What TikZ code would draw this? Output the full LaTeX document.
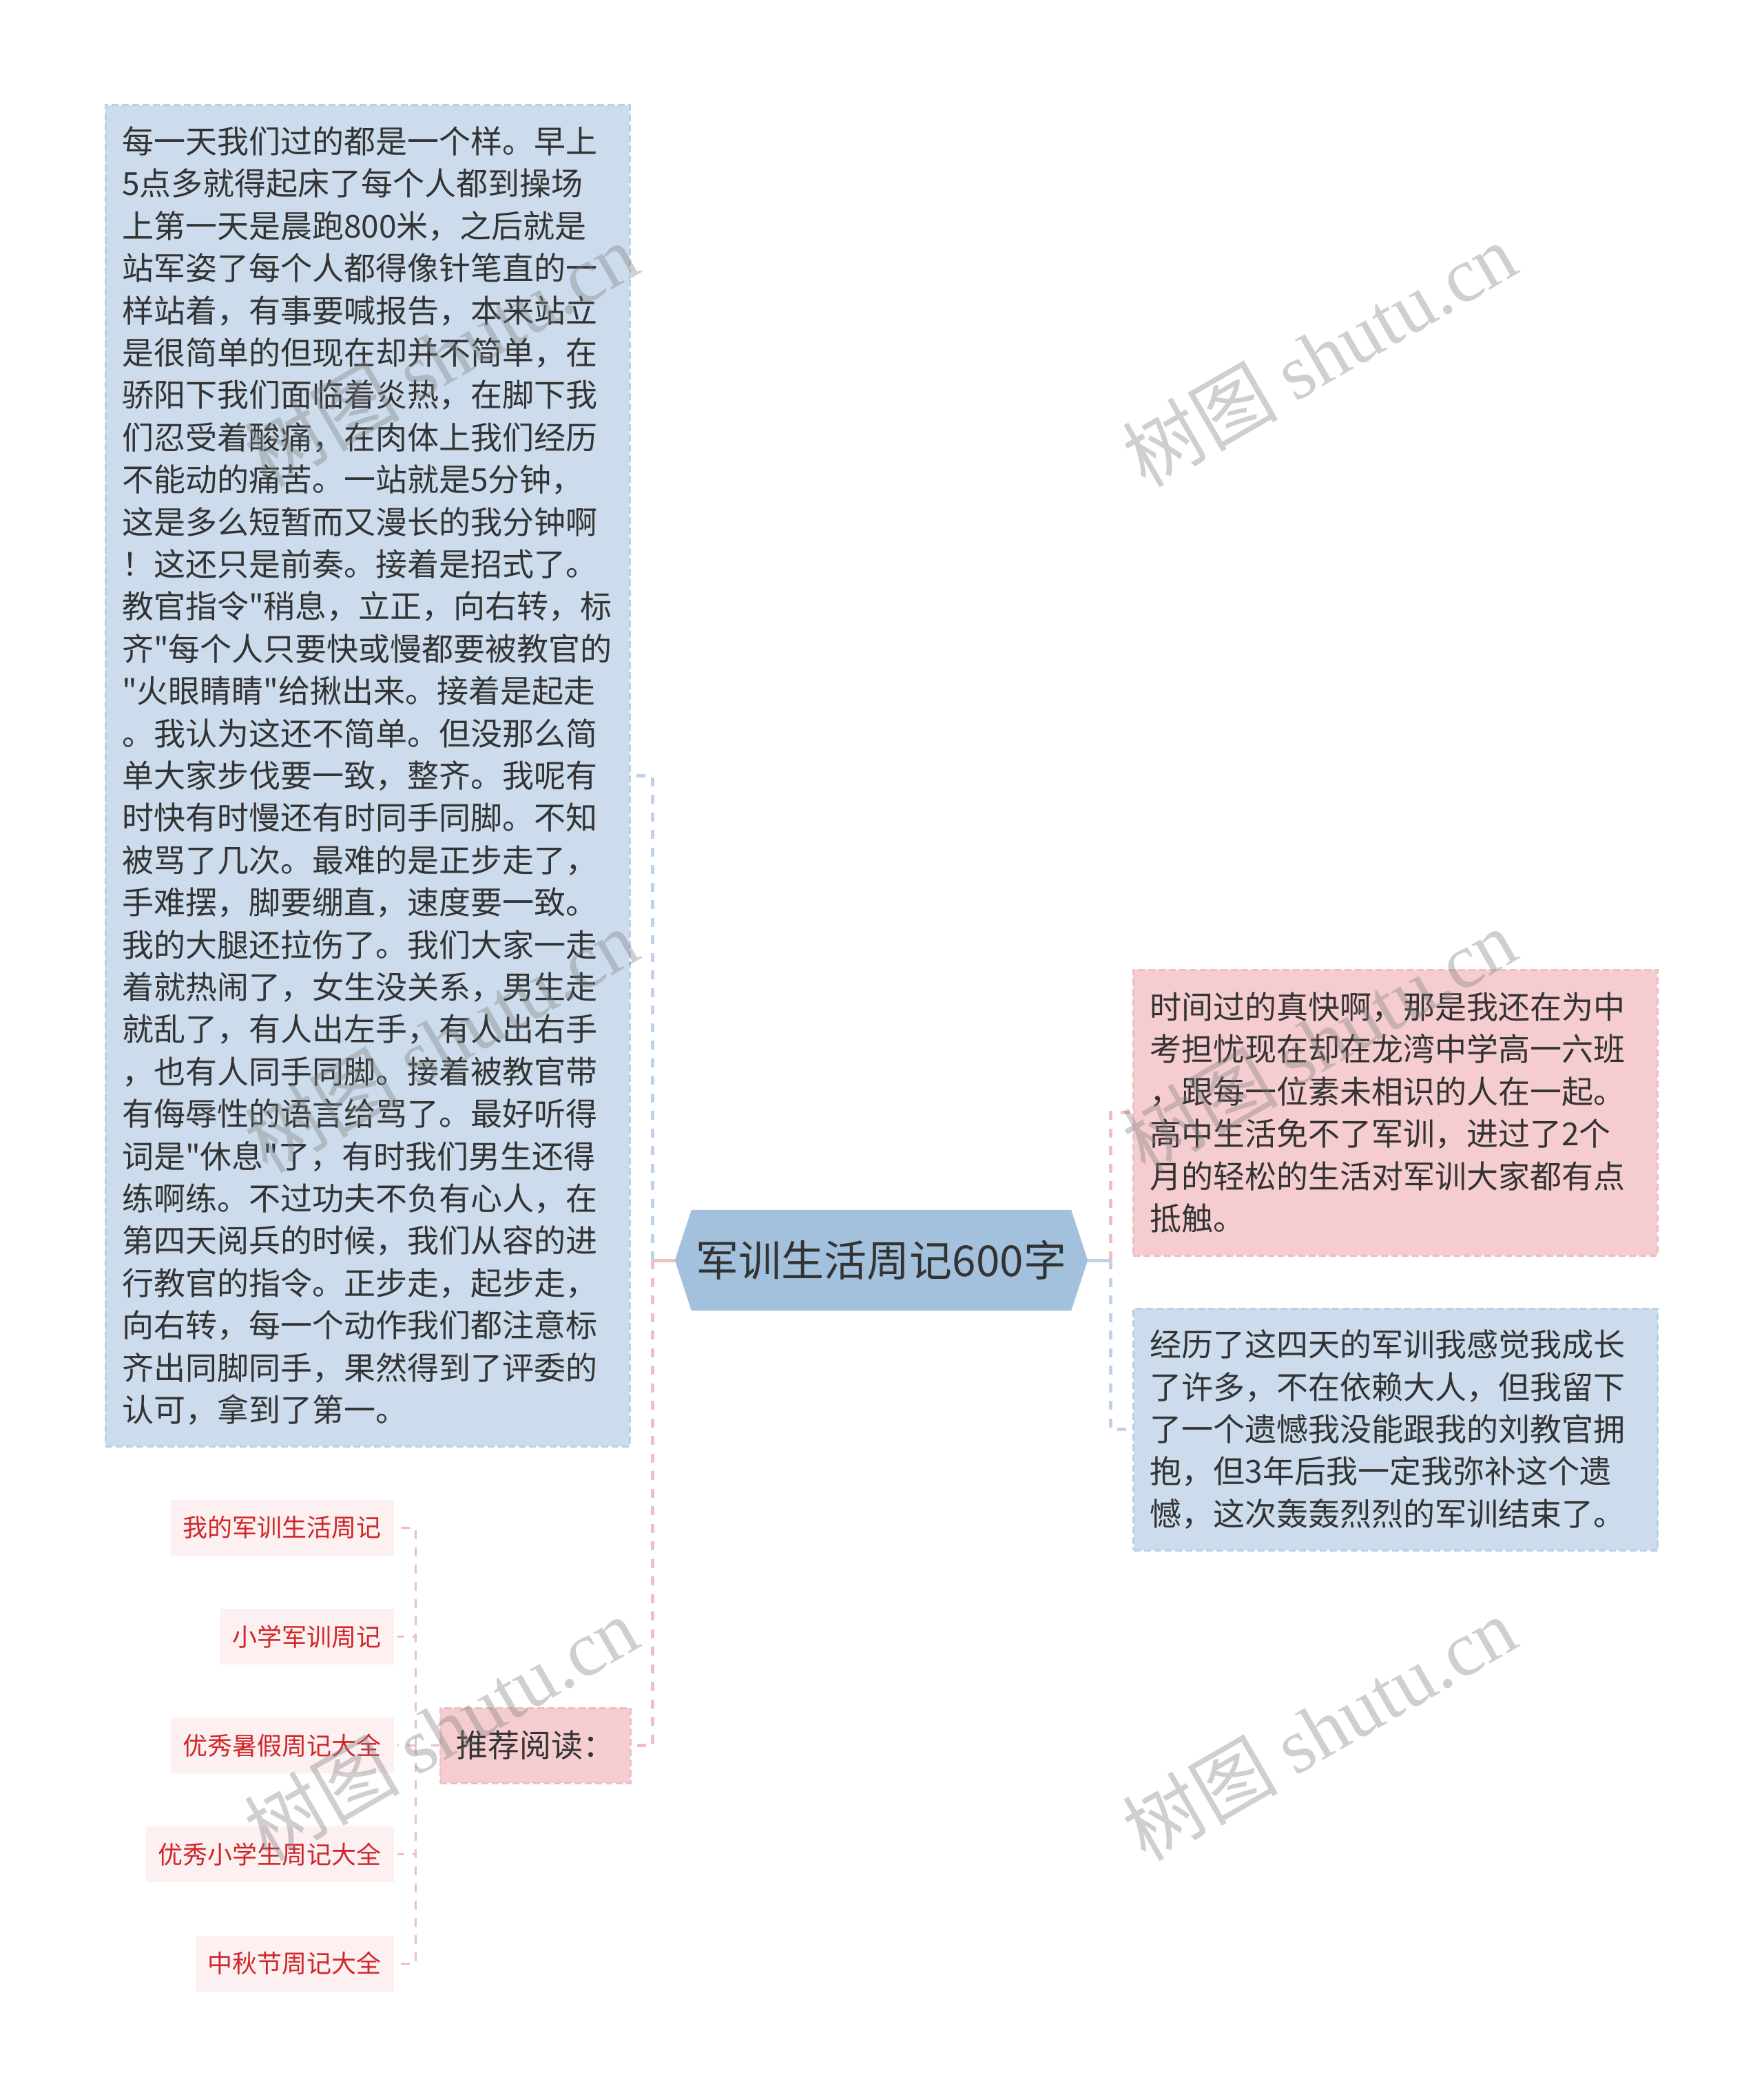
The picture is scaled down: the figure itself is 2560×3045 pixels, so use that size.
\documentclass[tikz,border=0pt]{standalone}
\usepackage{fontspec}
\setmainfont{Noto Sans CJK SC}[Ligatures=TeXOff]
\newfontfamily\wmlatin{Liberation Serif}
\usetikzlibrary{positioning,backgrounds}

\definecolor{txtgray}{HTML}{333333}
\definecolor{bluefill}{RGB}{204,220,236}
\definecolor{blueedge}{RGB}{188,207,229}
\definecolor{rootfill}{RGB}{163,193,221}
\definecolor{pinkfill}{RGB}{245,205,208}
\definecolor{pinkedge}{RGB}{239,190,195}
\definecolor{leaffill}{RGB}{252,240,241}
\definecolor{leafred}{RGB}{208,38,42}
\definecolor{bluelink}{RGB}{190,210,232}
\definecolor{pinklink}{RGB}{240,190,195}

\tikzset{
  body/.style={line width=3pt, dash pattern=on 10pt off 5pt, text=txtgray,
    align=left, text width=713pt, inner xsep=24pt, inner ysep=0pt,
    font=\fontsize{46}{61.4}\selectfont},
  bluebody/.style={body, fill=bluefill, draw=blueedge},
  pinkbody/.style={body, fill=pinkfill, draw=pinkedge},
  rootbox/.style={minimum width=599pt, minimum height=146pt, inner sep=0pt,
    text=txtgray, font=\fontsize{62}{70}\selectfont},
  recbox/.style={fill=pinkfill, draw=pinkedge, line width=3pt,
    dash pattern=on 10pt off 5pt, minimum width=276pt, minimum height=109pt,
    inner sep=0pt, text=txtgray, font=\fontsize{46}{50}\selectfont},
  leafbox/.style={fill=leaffill, minimum height=81pt, inner xsep=18pt,
    inner ysep=0pt, text=leafred, font=\fontsize{36}{40}\selectfont},
  blink/.style={draw=bluelink, line width=5pt, dash pattern=on 13pt off 12.5pt},
  plink/.style={draw=pinklink, line width=5pt, dash pattern=on 13pt off 12.5pt},
  leaflink/.style={draw=pinklink, line width=3pt, dash pattern=on 13pt off 12pt},
  wmark/.style={text=black!50, opacity=0.38, rotate=30,
    font=\fontsize{113}{118}\selectfont}
}

\begin{document}
\begin{tikzpicture}[x=1pt,y=-1pt]
\useasboundingbox (0,0) rectangle (2560,3045);

% central topic
\node[rootbox] (root) at (1279.5,1830) {军训生活周记600字};
\begin{scope}[on background layer]
  \fill[rootfill] ([xshift=24pt]root.north west) -- ([xshift=-24pt]root.north east)
    -- (root.east) -- ([xshift=-24pt]root.south east)
    -- ([xshift=24pt]root.south west) -- (root.west) -- cycle;
\end{scope}

% left: long text
\node[bluebody, minimum height=1947pt] (story) at (533.5,1126.5) {%
每一天我们过的都是一个样。早上\\
5点多就得起床了每个人都到操场\\
上第一天是晨跑800米，之后就是\\
站军姿了每个人都得像针笔直的一\\
样站着，有事要喊报告，本来站立\\
是很简单的但现在却并不简单，在\\
骄阳下我们面临着炎热，在脚下我\\
们忍受着酸痛，在肉体上我们经历\\
不能动的痛苦。一站就是5分钟，\\
这是多么短暂而又漫长的我分钟啊\\
！这还只是前奏。接着是招式了。\\
教官指令"稍息，立正，向右转，标\\
齐"每个人只要快或慢都要被教官的\\
"火眼睛睛"给揪出来。接着是起走\\
。我认为这还不简单。但没那么简\\
单大家步伐要一致，整齐。我呢有\\
时快有时慢还有时同手同脚。不知\\
被骂了几次。最难的是正步走了，\\
手难摆，脚要绷直，速度要一致。\\
我的大腿还拉伤了。我们大家一走\\
着就热闹了，女生没关系，男生走\\
就乱了，有人出左手，有人出右手\\
，也有人同手同脚。接着被教官带\\
有侮辱性的语言给骂了。最好听得\\
词是"休息"了，有时我们男生还得\\
练啊练。不过功夫不负有心人，在\\
第四天阅兵的时候，我们从容的进\\
行教官的指令。正步走，起步走，\\
向右转，每一个动作我们都注意标\\
齐出同脚同手，果然得到了评委的\\
认可，拿到了第一。};

% left: recommended reading
\node[recbox] (rec) at (777,2534.5) {推荐阅读：};
\foreach \t [count=\i] in {我的军训生活周记,小学军训周记,优秀暑假周记大全,优秀小学生周记大全,中秋节周记大全}
  \node[leafbox, anchor=east] (lf\i) at (572,{2218+158.25*(\i-1)}) {\t};

% right: two text boxes
\node[pinkbody, minimum height=415pt] (start) at (2025.5,1615.5) {%
时间过的真快啊，那是我还在为中\\
考担忧现在却在龙湾中学高一六班\\
，跟每一位素未相识的人在一起。\\
高中生活免不了军训，进过了2个\\
月的轻松的生活对军训大家都有点\\
抵触。};
\node[bluebody, minimum height=351pt] (ending) at (2026,2075.5) {%
经历了这四天的军训我感觉我成长\\
了许多，不在依赖大人，但我留下\\
了一个遗憾我没能跟我的刘教官拥\\
抱，但3年后我一定我弥补这个遗\\
憾，这次轰轰烈烈的军训结束了。};

% connectors
\draw[blink, solid] (root.east) -- ++(33,0);
\draw[plink] ([xshift=33pt]root.east) |- (start.west);
\draw[blink] ([xshift=33pt]root.east) |- (ending.west);
\draw[plink, solid] (root.west) -- ++(-32,0);
\draw[blink] ([xshift=-32pt]root.west) |- (story.east);
\draw[plink] ([xshift=-32pt]root.west) |- (rec.east);
\draw[leaflink, solid] (rec.west) -- ++(-12,0);
\foreach \i in {1,...,5}
  \draw[leaflink] ([xshift=-34pt]rec.west) |- ([xshift=5pt]lf\i.east);

% watermarks
\foreach \wx in {640,1915}
  \foreach \wy in {515,1511,2510}
    \node[wmark] (wm) at (\wx,\wy) {树图 {\wmlatin shutu.cn}};
\end{tikzpicture}
\end{document}
